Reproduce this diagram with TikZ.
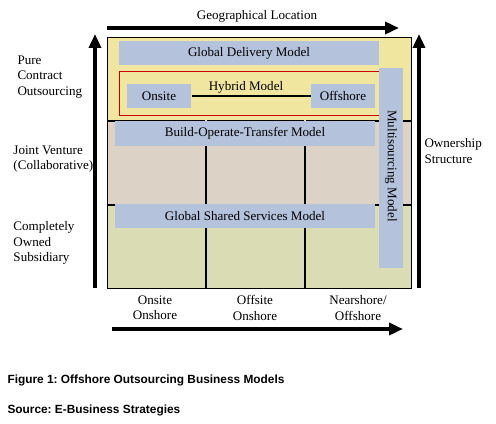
\documentclass[tikz,border=0pt]{standalone}
\usepackage{fontspec}
\setmainfont{Liberation Serif}
\newfontfamily\capfont{Liberation Sans}
\usetikzlibrary{arrows.meta}
\frenchspacing

\definecolor{bandyellow}{RGB}{241,230,160}
\definecolor{bandbeige}{RGB}{220,210,198}
\definecolor{bandgreen}{RGB}{218,220,180}
\definecolor{modelblue}{RGB}{180,194,220}
\definecolor{hybridred}{RGB}{204,0,0}

\tikzset{every picture/.style={line width=0.75pt}}

\begin{document}
\begin{tikzpicture}[x=0.75pt,y=0.75pt,yscale=-1,xscale=1,
  lbl/.style={inner sep=0.75pt, font=\fontsize{9.8}{11.6}\selectfont},
  modelbox/.style={fill=modelblue, inner sep=0pt, font=\fontsize{9.8}{11.6}\selectfont},
  axis/.style={line width=3pt, -{Triangle[length=10.5pt,width=9pt]}},
  capline/.style={anchor=west, inner sep=0pt, font=\capfont\bfseries\fontsize{8.9}{10}\selectfont}]
\useasboundingbox (0,0) rectangle (496,424);

%Shape: Rectangle (bands)
\fill[bandyellow] (107,38) rectangle (411,121);
\fill[bandbeige] (107,121) rectangle (411,205);
\fill[bandgreen] (107,205) rectangle (411,288);
\draw (107,38) rectangle (411,288);
%Straight Lines (grid)
\draw[line width=1.5pt] (107,121) -- (411,121);
\draw[line width=1.5pt] (107,205) -- (411,205);
\draw[line width=1.5pt] (206,121) -- (206,288);
\draw[line width=1.5pt] (305,121) -- (305,288);
\draw[double=bandyellow, double distance=1pt, line width=0.5pt] (206,38) -- (206,121);
\draw[double=bandyellow, double distance=1pt, line width=0.5pt] (305,38) -- (305,121);

%Shape: Rectangle (models)
\node[modelbox, minimum width=195pt, minimum height=18pt] (gdm) at (249,53) {Global Delivery Model};
\node[draw=hybridred, inner sep=0pt, minimum width=195pt, minimum height=33pt] (hybrid) at (249,94) {};
\node[modelbox, minimum width=48pt, minimum height=18pt] (onsite) at (159,96) {Onsite};
\node[modelbox, minimum width=48pt, minimum height=18pt] (offshore) at (343,96) {Offshore};
\node[modelbox, minimum width=195pt, minimum height=18.75pt] (bot) at (245,133.5) {Build-Operate-Transfer Model};
\node[modelbox, minimum width=195pt, minimum height=18pt] (gss) at (245,216) {Global Shared Services Model};
\node[modelbox, minimum width=18pt, minimum height=150pt] (multi) at (391,168) {};
%Straight Lines
\draw[line width=1.5pt] (onsite) -- (offshore);

% Text Node
\node[lbl] (hybridtxt) at (246,87) {Hybrid Model};
% Text Node
\node[lbl, rotate=-90] (multitxt) at (391,166) {Multisourcing Model};

%Straight Lines (axes)
\coordinate (geoS) at (107,28);
\coordinate (geoE) at (399,28);
\coordinate (locS) at (112,329);
\coordinate (locE) at (403,329);
\coordinate (ctrS) at (95,288);
\coordinate (ctrE) at (95,34);
\coordinate (ownS) at (419,288);
\coordinate (ownE) at (419,34);
\draw[axis] (geoS) -- (geoE);
\draw[axis] (locS) -- (locE);
\draw[axis] (ctrS) -- (ctrE);
\draw[axis] (ownS) -- (ownE);

% Text Node
\node[lbl] (geo) at (257,16) {Geographical Location};
% Text Node
\node[lbl, anchor=west, align=left] (pure) at (16,77) {Pure\\Contract\\Outsourcing};
% Text Node
\node[lbl, anchor=west, align=left] (joint) at (12,159) {Joint Venture\\(Collaborative)};
% Text Node
\node[lbl, anchor=west, align=left] (owned) at (12,243) {Completely\\Owned\\Subsidiary};
% Text Node
\node[lbl, anchor=west, align=left] (own) at (423,151) {Ownership\\Structure};
% Text Node
\node[lbl, align=center] (colA) at (155,308) {Onsite\\Onshore};
% Text Node
\node[lbl, align=center] (colB) at (255,308) {Offsite\\Onshore};
% Text Node
\node[lbl, align=center] (colC) at (358,308) {Nearshore/\\Offshore};

% Text Node
\node[capline] (fig) at (7,380) {Figure 1: Offshore Outsourcing Business Models};
% Text Node
\node[capline] (src) at (7,410) {Source: E-Business Strategies};

\end{tikzpicture}
\end{document}
